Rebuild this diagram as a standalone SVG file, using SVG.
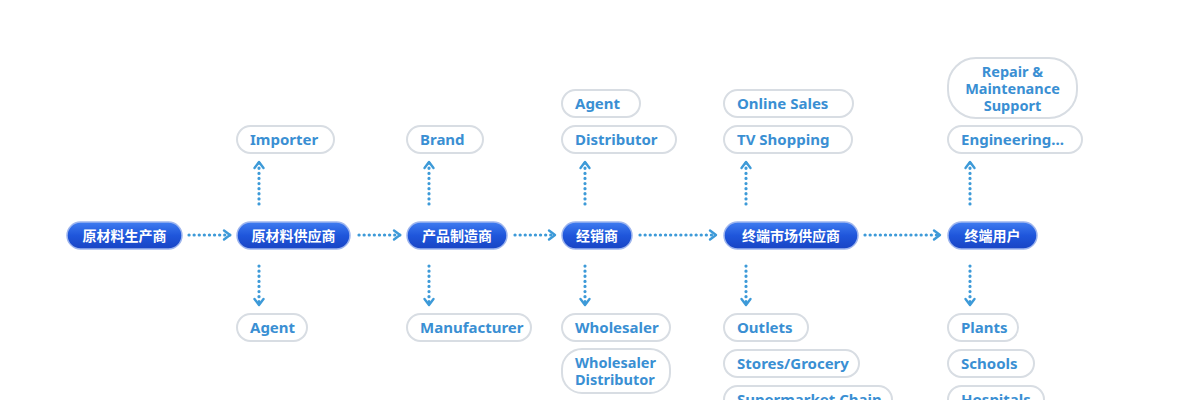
<svg xmlns="http://www.w3.org/2000/svg" width="1200" height="400" viewBox="0 0 1200 400">
<style>
.m rect{fill:url(#g);stroke:#9fb6ee;stroke-width:1.5}
.m text{fill:#fff;font:bold 14px "Noto Sans CJK SC",sans-serif;text-anchor:middle}
.s rect{fill:#fff;stroke:#d8dde3;stroke-width:2}
.s text{fill:#3a8fd3;font:bold 15px "Noto Sans","Open Sans",sans-serif}
.s text.t{font-size:14.5px}
.c line{stroke:#3d9ad8;stroke-width:3.2;stroke-dasharray:0.1 5;stroke-linecap:round;marker-end:url(#a)}
</style>
<defs>
<linearGradient id="g" x1="0" y1="0" x2="0" y2="1"><stop offset="0" stop-color="#3f7cf0"/><stop offset="0.5" stop-color="#1f56db"/><stop offset="1" stop-color="#1844c4"/></linearGradient>
<marker id="a" viewBox="0 0 10 10" refX="6" refY="5" markerWidth="10" markerHeight="10" orient="auto" markerUnits="userSpaceOnUse" style="overflow:visible"><path d="M0,0.5 L6,5 L0,9.5" fill="none" stroke="#3d9ad8" stroke-width="2.4" stroke-linejoin="round" stroke-linecap="round"/></marker>
</defs>
<g class="c">
<line x1="189" y1="235" x2="230" y2="235"/><line x1="359" y1="235" x2="400" y2="235"/><line x1="515" y1="235" x2="555" y2="235"/><line x1="640" y1="235" x2="716" y2="235"/><line x1="865" y1="235" x2="940" y2="235"/>
<line x1="259" y1="204" x2="259" y2="162"/><line x1="429" y1="204" x2="429" y2="162"/><line x1="585" y1="204" x2="585" y2="162"/><line x1="746" y1="204" x2="746" y2="162"/><line x1="970" y1="204" x2="970" y2="162"/>
<line x1="259" y1="266" x2="259" y2="305"/><line x1="429" y1="266" x2="429" y2="305"/><line x1="585" y1="266" x2="585" y2="305"/><line x1="746" y1="266" x2="746" y2="305"/><line x1="970" y1="266" x2="970" y2="305"/>
</g>
<g id="n1" class="m"><rect x="67" y="222" width="115" height="27" rx="13.5"/><text x="124.5" y="240.5">原材料生产商</text></g>
<g id="n2" class="m"><rect x="237" y="222" width="113" height="27" rx="13.5"/><text x="293.5" y="240.5">原材料供应商</text></g>
<g id="n3" class="m"><rect x="407" y="222" width="100" height="27" rx="13.5"/><text x="457" y="240.5">产品制造商</text></g>
<g id="n4" class="m"><rect x="562" y="222" width="70" height="27" rx="13.5"/><text x="597" y="240.5">经销商</text></g>
<g id="n5" class="m"><rect x="724" y="222" width="134" height="27" rx="13.5"/><text x="791" y="240.5">终端市场供应商</text></g>
<g id="n6" class="m"><rect x="948" y="222" width="89" height="27" rx="13.5"/><text x="992.5" y="240.5">终端用户</text></g>
<g id="s1" class="s"><rect x="237" y="126" width="97" height="27" rx="13.5"/><text x="250" y="145">Importer</text></g>
<g id="s2" class="s"><rect x="237" y="314" width="70" height="27" rx="13.5"/><text x="250" y="333">Agent</text></g>
<g id="s3" class="s"><rect x="407" y="126" width="76" height="27" rx="13.5"/><text x="420" y="145">Brand</text></g>
<g id="s4" class="s"><rect x="407" y="314" width="124" height="27" rx="13.5"/><text x="420" y="333">Manufacturer</text></g>
<g id="s5" class="s"><rect x="562" y="90" width="78" height="27" rx="13.5"/><text x="575" y="109">Agent</text></g>
<g id="s6" class="s"><rect x="562" y="126" width="114" height="27" rx="13.5"/><text x="575" y="145">Distributor</text></g>
<g id="s7" class="s"><rect x="562" y="314" width="108" height="27" rx="13.5"/><text x="575" y="333">Wholesaler</text></g>
<g id="s8" class="s"><rect x="562" y="349" width="108" height="44" rx="20"/><text class="t" x="575" y="368">Wholesaler</text><text class="t" x="575" y="385">Distributor</text></g>
<g id="s9" class="s"><rect x="724" y="90" width="129" height="27" rx="13.5"/><text x="737" y="109">Online Sales</text></g>
<g id="s10" class="s"><rect x="724" y="126" width="128" height="27" rx="13.5"/><text x="737" y="145">TV Shopping</text></g>
<g id="s11" class="s"><rect x="724" y="314" width="84" height="27" rx="13.5"/><text x="737" y="333">Outlets</text></g>
<g id="s12" class="s"><rect x="724" y="350" width="135" height="27" rx="13.5"/><text x="737" y="369">Stores/Grocery</text></g>
<g id="s13" class="s"><rect x="724" y="386" width="168" height="27" rx="13.5"/><text x="737" y="405">Supermarket Chain</text></g>
<g id="s14" class="s"><rect x="948" y="58" width="129" height="60" rx="28"/><text class="t" x="1012.5" y="77" text-anchor="middle">Repair &amp;</text><text class="t" x="1012.5" y="94" text-anchor="middle">Maintenance</text><text class="t" x="1012.5" y="111" text-anchor="middle">Support</text></g>
<g id="s15" class="s"><rect x="948" y="126" width="134" height="27" rx="13.5"/><text x="961" y="145">Engineering...</text></g>
<g id="s16" class="s"><rect x="948" y="314" width="70" height="27" rx="13.5"/><text x="961" y="333">Plants</text></g>
<g id="s17" class="s"><rect x="948" y="350" width="86" height="27" rx="13.5"/><text x="961" y="369">Schools</text></g>
<g id="s18" class="s"><rect x="948" y="386" width="96" height="27" rx="13.5"/><text x="961" y="405">Hospitals</text></g>
</svg>
